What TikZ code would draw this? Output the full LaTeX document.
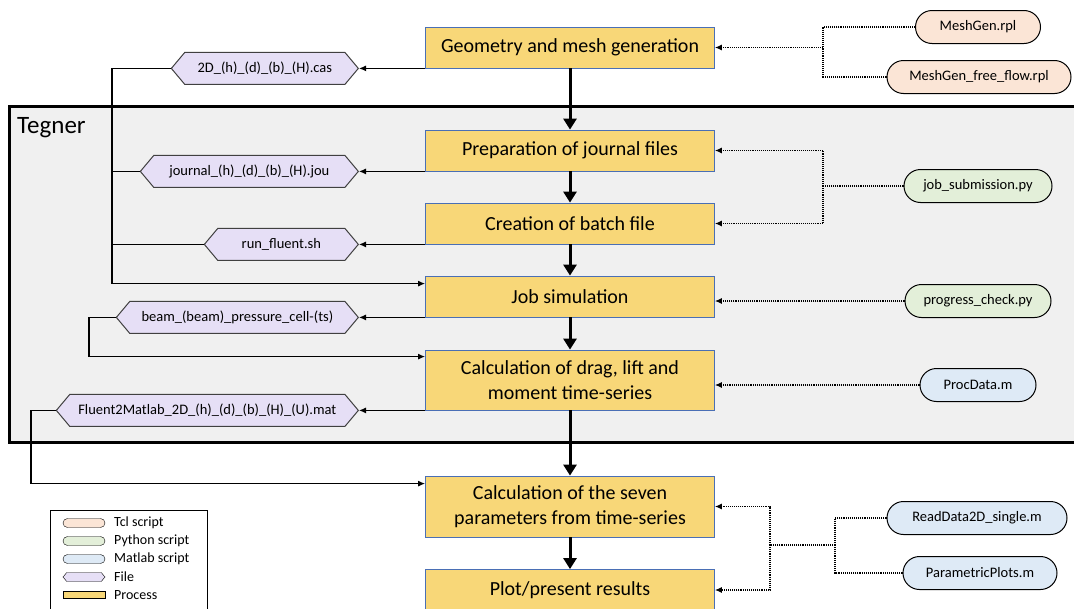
\documentclass[tikz,border=0pt]{standalone}
\usepackage{fontspec}
\setmainfont{Carlito}
\usetikzlibrary{shapes.misc,shapes.symbols,arrows.meta}

\begin{document}
\begin{tikzpicture}[x=1pt,y=-1pt,>={Latex[length=7pt,width=6pt]}]

% colors
\definecolor{processFill}{HTML}{F8D778}
\definecolor{processBorder}{HTML}{4A6FB5}
\definecolor{fileFill}{HTML}{E6DFF6}
\definecolor{tclFill}{HTML}{FBE5D6}
\definecolor{pythonFill}{HTML}{E3EFD9}
\definecolor{matlabFill}{HTML}{DEEAF6}
\definecolor{clusterFill}{HTML}{F0F0F0}

% font sizes
\def\processFont{\fontsize{20}{25}\selectfont}
\def\fileFont{\fontsize{14.5}{17}\selectfont}
\def\legendFont{\fontsize{14}{16}\selectfont}

\tikzset{
    process/.style={draw=processBorder, line width=0.8pt, fill=processFill,
        minimum width=289pt, minimum height=41pt, align=center,
        font=\processFont, inner sep=2pt},
    fileShape/.style={signal, signal to=west and east, signal pointer angle=100,
        draw=black!75, line width=1pt, fill=fileFill, minimum height=32pt,
        inner xsep=4pt, font=\fileFont},
    script/.style={rounded rectangle, draw=black, line width=1pt,
        minimum height=33pt, inner xsep=2pt, font=\fileFont},
    dotLine/.style={densely dotted, line width=1.1pt},
    flowArrow/.style={line width=3pt, -{Triangle[length=11pt,width=13pt]}},
    linkArrow/.style={line width=1.2pt, ->},
}

\useasboundingbox (0,0) rectangle (1074,608);
\clip (0,0) rectangle (1074,608);

% Tegner cluster
\draw[line width=3pt, fill=clusterFill] (9,106) rectangle (1090,442);
\node[anchor=west, font=\fontsize{25}{28}\selectfont, inner sep=0pt] (tegnerLabel) at (17,128) {Tegner};

% process boxes
\node[process] (geometryBox) at (570,47.5) {Geometry and mesh generation};
\node[process] (prepBox) at (570,150.5) {Preparation of journal files};
\node[process] (batchBox) at (570,223.5) {Creation of batch file};
\node[process] (jobBox) at (570,296.5) {Job simulation};
\node[process, minimum height=60pt] (dragBox) at (570,380) {Calculation of drag, lift and\\moment time-series};
\node[process, minimum height=61pt] (sevenBox) at (570,506.5) {Calculation of the seven\\parameters from time-series};
\node[process] (plotBox) at (570,590) {Plot/present results};

% main flow
\draw[flowArrow] (geometryBox) -- (prepBox);
\draw[flowArrow] (prepBox) -- (batchBox);
\draw[flowArrow] (batchBox) -- (jobBox);
\draw[flowArrow] (jobBox) -- (dragBox);
\draw[flowArrow] (dragBox) -- (sevenBox);
\draw[flowArrow] (sevenBox) -- (plotBox);

% files
\node[fileShape, anchor=east, minimum width=187pt] (casFile) at (359,0 |- geometryBox.south) {2D\_(h)\_(d)\_(b)\_(H).cas};
\node[fileShape, anchor=east, minimum width=218pt] (jouFile) at (359,0 |- prepBox.south) {journal\_(h)\_(d)\_(b)\_(H).jou};
\node[fileShape, anchor=east, minimum width=154pt] (shFile) at (359,0 |- batchBox.south) {run\_fluent.sh};
\node[fileShape, anchor=east, minimum width=242pt] (beamFile) at (359,0 |- jobBox.south) {beam\_(beam)\_pressure\_cell-(ts)};
\node[fileShape, anchor=east, minimum width=302pt] (matFile) at (359,0 |- dragBox.south) {Fluent2Matlab\_2D\_(h)\_(d)\_(b)\_(H)\_(U).mat};

\draw[linkArrow] (geometryBox.south west) -- (casFile.east);
\draw[linkArrow] (prepBox.south west) -- (jouFile.east);
\draw[linkArrow] (batchBox.south west) -- (shFile.east);
\draw[linkArrow] (jobBox.south west) -- (beamFile.east);
\draw[linkArrow] (dragBox.south west) -- (matFile.east);

% file buses on the left
\coordinate (fileBus) at (112,0 |- casFile.west);
\coordinate (beamBus) at (89,0 |- beamFile.west);
\coordinate (matBus) at (31,0 |- matFile.west);
\draw[linkArrow] (casFile.west) -- (fileBus) |- ([yshift=-8pt]jobBox.north west);
\draw[line width=1.2pt] (jouFile.west) -- (jouFile.west -| fileBus);
\draw[line width=1.2pt] (shFile.west) -- (shFile.west -| fileBus);
\draw[linkArrow] (beamFile.west) -- (beamBus) |- ([yshift=-7pt]dragBox.north west);
\draw[linkArrow] (matFile.west) -- (matBus) |- ([yshift=-8pt]sevenBox.north west);

% scripts
\node[script, fill=tclFill, minimum width=129pt] (meshScript) at (978,27) {MeshGen.rpl};
\node[script, fill=tclFill, minimum width=188pt] (meshFreeScript) at (979,77) {MeshGen\_free\_flow.rpl};
\node[script, fill=pythonFill, minimum width=152pt] (jobSubScript) at (978,186) {job\_submission.py};
\node[script, fill=pythonFill, minimum width=150pt] (progressScript) at (978,301) {progress\_check.py};
\node[script, fill=matlabFill, minimum width=120pt] (procScript) at (978,385) {ProcData.m};
\node[script, fill=matlabFill, minimum width=184pt] (readScript) at (977,518) {ReadData2D\_single.m};
\node[script, fill=matlabFill, minimum width=158pt] (paramScript) at (980,573) {ParametricPlots.m};

% script connectors
\coordinate (meshJoin) at (823,0 |- geometryBox.east);
\draw[dotLine] (meshScript.west) -| (meshJoin);
\draw[dotLine] (meshFreeScript.west) -| (meshJoin);
\draw[dotLine, ->] (meshJoin) -- (geometryBox.east);

\coordinate (jobSubJoin) at (823,0 |- jobSubScript.west);
\draw[dotLine] (jobSubScript.west) -- (jobSubJoin);
\draw[dotLine, ->] (jobSubJoin) |- (prepBox.east);
\draw[dotLine, ->] (jobSubJoin) |- (batchBox.east);

\draw[dotLine, ->] (progressScript.west) -- (progressScript.west -| jobBox.east);
\draw[dotLine, ->] (procScript.west) -- (procScript.west -| dragBox.east);

\coordinate (matlabJoin) at (835,545);
\coordinate (resultJoin) at (770,545);
\draw[dotLine] (readScript.west) -| (matlabJoin);
\draw[dotLine] (paramScript.west) -| (matlabJoin);
\draw[dotLine] (matlabJoin) -- (resultJoin);
\draw[dotLine, ->] (resultJoin) |- (sevenBox.east);
\draw[dotLine, ->] (resultJoin) |- (plotBox.east);

% legend
\draw[line width=1pt] (50,510) rectangle (207,620);
\node[rounded rectangle, draw, fill=tclFill, minimum width=42pt, minimum height=9pt, inner sep=0pt] (tclKey) at (84,523) {};
\node[rounded rectangle, draw, fill=pythonFill, minimum width=42pt, minimum height=9pt, inner sep=0pt] (pythonKey) at (84,541) {};
\node[rounded rectangle, draw, fill=matlabFill, minimum width=42pt, minimum height=9pt, inner sep=0pt] (matlabKey) at (84,559) {};
\node[signal, signal to=west and east, signal pointer angle=100, draw, fill=fileFill, minimum width=42pt, minimum height=9pt, inner sep=0pt] (fileKey) at (84,577) {};
\node[draw, fill=processFill, minimum width=42pt, minimum height=7pt, inner sep=0pt] (processKey) at (84,595) {};
\node[anchor=west, font=\legendFont, inner sep=0pt] (tclText) at (114,523) {Tcl script};
\node[anchor=west, font=\legendFont, inner sep=0pt] (pythonText) at (114,541) {Python script};
\node[anchor=west, font=\legendFont, inner sep=0pt] (matlabText) at (114,559) {Matlab script};
\node[anchor=west, font=\legendFont, inner sep=0pt] (fileText) at (114,577) {File};
\node[anchor=west, font=\legendFont, inner sep=0pt] (processText) at (114,595) {Process};

\end{tikzpicture}
\end{document}
